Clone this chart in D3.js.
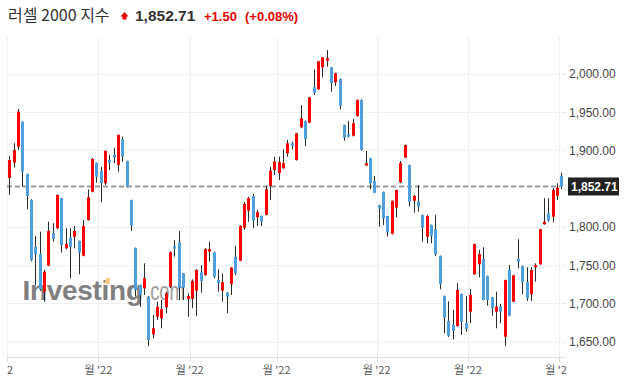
<!DOCTYPE html>
<html><head><meta charset="utf-8">
<script src="https://cdn.jsdelivr.net/npm/d3@7"></script>
<style>body{margin:0;background:#fff;} svg{display:block;}</style>
</head><body>
<svg id="chart" width="626" height="391"></svg>
<script>
// ---- data (Russell 2000 daily candles, May 2 – Nov 1, 2022) ----
const openVals = [1863.8,1883.8,1904.7,1937.4,1869.0,1835.1,1774.0,1764.5,1715.2,1749.2,1791.5,1798.1,1837.3,1771.9,1785.8,1787.1,1781.5,1762.2,1808.9,1845.9,1883.4,
1873.4,1856.9,1887.3,1893.9,1880.8,1914.4,1886.0,1835.1,1772.3,1723.9,1719.6,1708.7,1659.5,1682.5,1680.4,1694.8,1721.7,1774.9,1779.8,1739.2,1705.6,
1705.6,1716.5,1740.5,1737.0,1767.5,1766.7,1730.5,1716.5,1713.9,1725.3,1760.9,1755.7,1798.9,1821.1,1840.3,1812.4,1814.1,1815.5,1853.4,1874.3,
1870.4,1876.5,1896.1,1909.2,1887.3,1930.1,1938.3,1936.1,1982.4,1979.8,2008.5,2017.2,2008.5,1988.9,1993.2,1933.1,1920.9,1919.1,1944.9,1965.8,1879.9,1889.6,1859.9,
1828.5,1845.5,1814.1,1791.0,1825.0,1857.9,1890.4,1880.8,1834.1,1832.8,1815.5,1787.1,1802.4,1796.8,1761.9,1709.6,1676.9,1671.7,1670.4,1712.2,1674.3,
1689.0,1737.9,1751.0,1757.9,1735.7,1707.9,1689.0,1695.6,1656.4,1743.5,1702.1,1757.9,1748.8,1727.9,1711.8,1747.1,1751.0,1803.3,1817.7,1813.2,1840.7,
1866.8];
const highVals = [1892.6,1909.2,1954.0,1938.0,1869.5,1836.0,1788.0,1793.6,1743.5,1806.7,1804.6,1842.5,1838.0,1798.1,1798.1,1801.1,1782.0,1808.9,1849.0,1889.5,1884.0,
1878.6,1900.0,1893.9,1903.4,1920.9,1917.8,1886.5,1835.5,1772.8,1724.5,1752.3,1709.5,1684.7,1702.1,1704.3,1715.2,1768.0,1782.8,1794.5,1739.7,1713.1,
1731.4,1744.5,1750.1,1772.0,1780.5,1767.5,1744.5,1739.2,1714.5,1747.5,1774.9,1802.0,1832.4,1839.0,1842.9,1822.0,1814.6,1853.4,1878.6,1891.7,
1891.7,1901.3,1913.5,1911.3,1923.0,1959.2,1939.0,1970.0,2005.9,2017.0,2022.0,2031.1,2009.0,2001.5,1994.0,1933.6,1938.3,1940.9,1966.5,1966.5,1899.1,1890.0,1866.4,
1829.0,1846.0,1814.6,1834.5,1848.6,1886.0,1907.5,1881.3,1841.6,1854.7,1816.0,1815.5,1803.0,1815.5,1762.4,1710.0,1702.4,1691.3,1726.2,1712.7,1709.6,
1718.7,1778.0,1769.7,1773.2,1736.2,1708.4,1715.2,1699.1,1731.0,1750.1,1737.1,1783.7,1749.3,1747.1,1747.1,1752.3,1797.3,1837.3,1837.3,1850.4,1856.9,
1870.7];
const lowVals = [1841.6,1877.8,1900.4,1852.4,1822.9,1755.0,1723.9,1716.1,1702.1,1748.5,1780.5,1797.0,1766.2,1770.6,1732.7,1771.9,1737.9,1761.5,1808.0,1845.0,1857.7,
1832.4,1854.7,1874.3,1883.0,1872.1,1885.1,1851.5,1794.5,1708.7,1695.6,1710.9,1644.2,1654.3,1678.2,1667.3,1686.9,1720.0,1760.9,1704.3,1704.3,1682.5,
1693.5,1683.4,1713.9,1736.0,1754.4,1732.7,1715.2,1702.1,1686.9,1710.9,1737.0,1755.0,1796.2,1806.7,1798.1,1801.1,1801.1,1815.0,1835.1,1867.7,
1861.2,1876.0,1891.7,1901.3,1886.5,1929.5,1905.6,1935.5,1972.3,1979.0,1995.5,2009.3,1976.6,1984.1,1953.6,1912.6,1917.0,1918.0,1944.0,1899.5,1879.5,1849.0,1844.0,
1800.2,1802.4,1787.3,1790.0,1812.2,1857.0,1890.0,1826.3,1818.5,1819.8,1780.5,1778.5,1778.5,1761.9,1718.3,1660.8,1656.0,1653.0,1669.5,1658.6,1662.9,
1673.9,1737.4,1734.0,1703.8,1696.9,1683.8,1667.3,1673.9,1644.2,1683.3,1701.6,1745.8,1711.8,1703.0,1703.0,1728.3,1750.5,1802.8,1806.7,1805.9,1835.1,
1849.4];
const closeVals = [1887.3,1900.4,1950.5,1872.1,1840.3,1756.6,1764.1,1718.3,1741.3,1794.5,1784.1,1841.6,1776.2,1777.5,1774.0,1794.5,1766.2,1801.1,1838.6,1888.7,1865.5,
1856.9,1899.1,1883.8,1890.4,1920.0,1891.7,1852.4,1801.5,1717.4,1710.9,1732.7,1652.1,1667.3,1695.6,1692.2,1713.1,1766.7,1771.4,1720.4,1720.4,1709.6,
1729.2,1743.5,1729.2,1771.0,1771.0,1734.8,1726.2,1727.5,1708.7,1746.6,1739.2,1801.1,1829.8,1837.3,1808.0,1819.0,1806.7,1849.0,1873.4,1885.4,
1884.7,1883.0,1909.2,1905.6,1922.2,1941.9,1914.4,1969.3,1975.3,2016.4,2021.6,2020.3,1987.6,2000.7,1958.3,1916.5,1917.8,1935.3,1965.8,1900.4,1883.0,1856.9,1844.6,
1823.9,1811.1,1793.6,1833.8,1848.1,1883.4,1907.0,1832.8,1840.3,1826.3,1798.9,1814.1,1788.4,1764.1,1724.9,1681.2,1657.7,1663.8,1717.4,1676.0,1666.4,
1710.9,1777.5,1764.5,1704.3,1704.3,1693.5,1695.6,1689.0,1730.5,1683.8,1736.6,1754.4,1727.5,1706.6,1743.5,1750.1,1796.8,1806.7,1808.0,1848.1,1851.2,
1852.71];
const monthStartIdx = [0, 21, 42, 62, 85, 106, 127];
const xTickLabels = ["2", "월 '22", "월 '22", "월 '22", "월 '22", "월 '22", "월 '22"];
const yTickValues = [1650, 1700, 1750, 1800, 1850, 1900, 1950, 2000].filter(v => v !== 1850);
const lastPrice = 1852.71;
const titleName = "러셀 2000 지수";
const priceText = "1,852.71";
const changeText = "+1.50";
const changePctText = "(+0.08%)";

// ---- layout ----
const svg = d3.select("#chart");
const L = 7, R = 560, T = 38, B = 357;
const n = closeVals.length;
const x = d3.scaleLinear().domain([0, n - 1]).range([9.3, 561.3]);
const y = d3.scaleLinear().domain([1629.8, 2046.8]).range([B, T]);
const UP = "#ff0000", DOWN = "#4ea1de", WICK = "#2b2b2b";
const latin = "'Liberation Sans', Arial, sans-serif";
const kr = "'Noto Sans CJK KR', 'Liberation Sans', sans-serif";

// gridlines
svg.append("g").selectAll("line").data(yTickValues).join("line")
  .attr("x1", L).attr("x2", R)
  .attr("y1", d => Math.round(y(d)) + 0.5).attr("y2", d => Math.round(y(d)) + 0.5)
  .attr("stroke", "#f0f0f0");
svg.append("g").selectAll("line").data(monthStartIdx).join("line")
  .attr("x1", d => Math.round(x(d - 0.5)) + 0.5).attr("x2", d => Math.round(x(d - 0.5)) + 0.5)
  .attr("y1", T).attr("y2", B)
  .attr("stroke", "#eeeeee");

// x axis
svg.append("line").attr("x1", L).attr("x2", 566).attr("y1", B + 0.5).attr("y2", B + 0.5).attr("stroke", "#e0e0e0");
svg.append("g").selectAll("line").data(monthStartIdx).join("line")
  .attr("x1", d => Math.round(x(d - 0.5)) + 0.5).attr("x2", d => Math.round(x(d - 0.5)) + 0.5)
  .attr("y1", B).attr("y2", B + 5).attr("stroke", "#dddddd");
svg.append("defs").append("clipPath").attr("id", "xclip")
  .append("rect").attr("x", 6).attr("y", B).attr("width", 561).attr("height", 30);
svg.append("g").attr("clip-path", "url(#xclip)").selectAll("text").data(monthStartIdx).join("text")
  .attr("x", (d, i) => i === 0 ? 7 : x(d - 0.5))
  .attr("y", 374)
  .attr("text-anchor", (d, i) => i === 0 ? "start" : "middle")
  .attr("font-family", kr).attr("font-size", 11).attr("fill", "#555")
  .text((d, i) => xTickLabels[i]);

// y axis (right)
svg.append("g").selectAll("line").data(yTickValues.concat([1850])).join("line")
  .attr("x1", 563).attr("x2", 566)
  .attr("y1", d => Math.round(y(d)) + 0.5).attr("y2", d => Math.round(y(d)) + 0.5)
  .attr("stroke", "#dddddd");
const fmt = d3.format(",.2f");
svg.append("g").selectAll("text").data(yTickValues).join("text")
  .attr("x", 569).attr("y", d => y(d) + 4.5)
  .attr("font-family", latin).attr("font-size", 12).attr("fill", "#444")
  .text(d => fmt(d));

// watermark logo
const logo = svg.append("g").attr("opacity", 0.85);
logo.append("text").attr("x", 22.5).attr("y", 300)
  .attr("font-family", latin).attr("font-weight", "bold").attr("font-size", 28)
  .attr("fill", "#6a6a6a").attr("letter-spacing", -0.3).text("Investing");
logo.append("text").attr("x", 145).attr("y", 300)
  .attr("font-family", latin).attr("font-size", 25).attr("fill", "#8c8c8c")
  .attr("textLength", 40).attr("lengthAdjust", "spacingAndGlyphs").text(".com");
logo.append("path").attr("d", "M104.5,284 L106,278 L110.5,278 L109,284 Z").attr("fill", "#f6c36e");

// dashed last-price line
svg.append("line").attr("x1", L).attr("x2", R)
  .attr("y1", y(lastPrice)).attr("y2", y(lastPrice))
  .attr("stroke", "#9a9a9a").attr("stroke-width", 2).attr("stroke-dasharray", "5,3");

// candles
const idx = d3.range(n);
const cg = svg.append("g");
cg.selectAll("line").data(idx).join("line")
  .attr("x1", i => Math.round(x(i)) + 0.5).attr("x2", i => Math.round(x(i)) + 0.5)
  .attr("y1", i => y(highVals[i])).attr("y2", i => y(lowVals[i]))
  .attr("stroke", WICK).attr("stroke-width", 1);
cg.selectAll("rect").data(idx).join("rect")
  .attr("x", i => Math.round(x(i)) - 1)
  .attr("width", 3)
  .attr("y", i => y(Math.max(openVals[i], closeVals[i])))
  .attr("height", i => Math.max(1.5, Math.abs(y(openVals[i]) - y(closeVals[i]))))
  .attr("fill", i => closeVals[i] >= openVals[i] ? UP : DOWN);

// last price box
const ly = y(lastPrice);
svg.append("rect").attr("x", 568).attr("y", ly - 9).attr("width", 51).attr("height", 18).attr("fill", "#222");
svg.append("text").attr("x", 571).attr("y", ly + 4.5)
  .attr("font-family", latin).attr("font-weight", "bold").attr("font-size", 12).attr("fill", "#fff")
  .text(fmt(lastPrice));

// title
svg.append("text").attr("x", 8).attr("y", 21)
  .attr("font-family", kr).attr("font-size", 16).attr("fill", "#333").text(titleName);
svg.append("path").attr("d", "M120.5,16.5 L124.5,12 L128.5,16.5 L126.5,16.5 L126.5,19.5 L122.5,19.5 L122.5,16.5 Z").attr("fill", "#e60000");
svg.append("text").attr("x", 135).attr("y", 21)
  .attr("font-family", latin).attr("font-weight", "bold").attr("font-size", 15.5).attr("fill", "#333").text(priceText);
svg.append("text").attr("x", 204).attr("y", 21)
  .attr("font-family", latin).attr("font-weight", "bold").attr("font-size", 13).attr("fill", "#e60000").text(changeText);
svg.append("text").attr("x", 245).attr("y", 21)
  .attr("font-family", latin).attr("font-weight", "bold").attr("font-size", 13).attr("fill", "#e60000").text(changePctText);
</script>
</body></html>
